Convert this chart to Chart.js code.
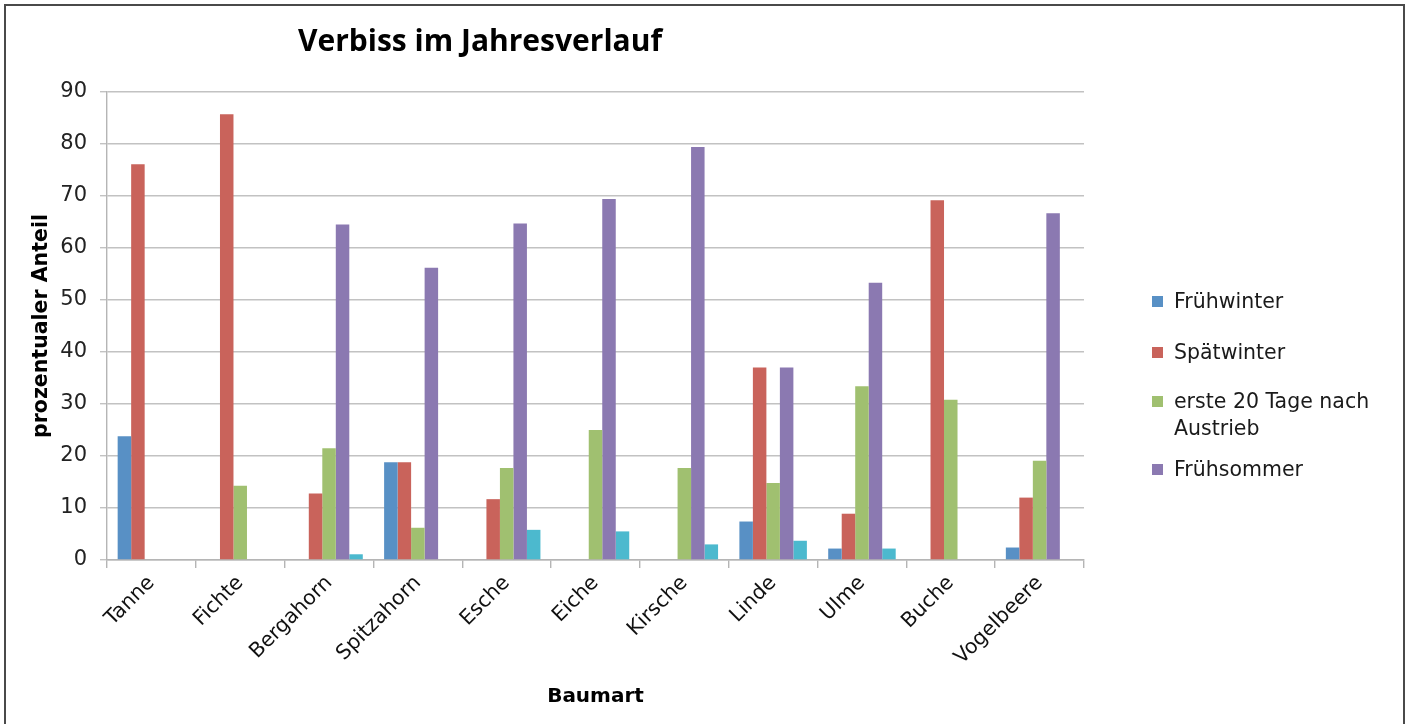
<!DOCTYPE html>
<html><head><meta charset="utf-8">
<script src="https://cdn.jsdelivr.net/npm/chart.js@4"></script>
<style>
html,body{margin:0;padding:0;background:#fff;}
#wrap{position:relative;width:1410px;height:724px;overflow:hidden;}
#frame{position:absolute;left:4px;top:4px;width:1401px;height:740px;border:2px solid #4a4a4a;box-sizing:border-box;pointer-events:none;}
#legend{position:absolute;left:1152px;top:0;font-family:"DejaVu Sans",sans-serif;font-size:20.5px;color:#1a1a1a;}
.li{position:absolute;left:0;white-space:nowrap;line-height:27px;}
.sw{position:absolute;left:0;width:11px;height:11px;}
.tx{position:absolute;left:22px;}
</style></head>
<body><div id="wrap"><canvas id="c" width="1410" height="724"></canvas><div id="frame"></div><div id="legend"></div></div>
<script>
const chartTitle = "Verbiss im Jahresverlauf";
const categories = ["Tanne","Fichte","Bergahorn","Spitzahorn","Esche","Eiche","Kirsche","Linde","Ulme","Buche","Vogelbeere"];
const seriesNames = ["Frühwinter","Spätwinter","erste 20 Tage nach Austrieb","Frühsommer","Spätsommer"];
const fruehwinter = [23.8, 0, 0, 18.8, 0, 0, 0, 7.4, 2.2, 0, 2.4];
const spaetwinter = [76.1, 85.7, 12.8, 18.8, 11.7, 0, 0, 37.0, 8.9, 69.2, 12.0];
const ersteTage   = [0, 14.3, 21.5, 6.2, 17.7, 25.0, 17.7, 14.8, 33.4, 30.8, 19.1];
const fruehsommer = [0, 0, 64.5, 56.2, 64.7, 69.4, 79.4, 37.0, 53.3, 0, 66.7];
const spaetsommer = [0, 0, 1.1, 0, 5.8, 5.5, 3.0, 3.7, 2.2, 0, 0];
const yTicks = [0,10,20,30,40,50,60,70,80,90];
const colors = ["#5890C5","#C9635B","#A0C070","#8B79B1","#4CB9CE"];

const allData = [fruehwinter, spaetwinter, ersteTage, fruehsommer, spaetsommer];

const titlePlugin = {
  id:'customTitle',
  afterDraw(chart){
    const ctx = chart.ctx;
    ctx.save();
    ctx.font = 'bold 30px "Open Sans", sans-serif';
    ctx.fillStyle = '#000';
    ctx.textAlign = 'center';
    ctx.textBaseline = 'middle';
    ctx.fillText(chartTitle, 480, 42);
    ctx.restore();
  }
};

new Chart(document.getElementById('c'), {
  type:'bar',
  data:{
    labels:categories,
    datasets: seriesNames.map((n,i)=>({label:n,data:allData[i],backgroundColor:colors[i],borderWidth:0,categoryPercentage:0.76,barPercentage:1.0}))
  },
  options:{
    responsive:false, animation:false, devicePixelRatio:1,
    layout:{padding:{top:92,right:326,bottom:0,left:0}},
    plugins:{legend:{display:false},title:{display:false},tooltip:{enabled:false}},
    scales:{
      y:{
        min:0,max:90,
        afterFit(s){s.width=107;},
        afterBuildTicks(s){s.ticks = yTicks.map(v=>({value:v}));},
        grid:{color:'#c2c2c2',lineWidth:1.4,tickLength:7},
        border:{color:'#b5b5b5',width:1.4},
        ticks:{padding:13,color:'#222',font:{family:'"DejaVu Sans", sans-serif',size:21}},
        title:{display:true,text:'prozentualer Anteil',color:'#000',font:{family:'"DejaVu Sans", sans-serif',size:20.5,weight:'bold'},padding:{top:29,bottom:0}}
      },
      x:{
        afterFit(s){s.height=164;},
        grid:{offset:true,drawOnChartArea:false,color:'#b5b5b5',lineWidth:1.4,tickLength:8},
        border:{color:'#b5b5b5',width:1.4},
        ticks:{maxRotation:45,minRotation:45,padding:3,color:'#111',autoSkip:false,font:{family:'"DejaVu Sans", sans-serif',size:20.5}},
        title:{display:true,text:'Baumart',color:'#000',font:{family:'"DejaVu Sans", sans-serif',size:20,weight:'bold'},padding:{top:0,bottom:15}}
      }
    }
  },
  plugins:[titlePlugin]
});

// HTML legend (first four series, as in the original)
const legendEl = document.getElementById('legend');
const legendRows = [[seriesNames[0]],[seriesNames[1]],["erste 20 Tage nach","Austrieb"],[seriesNames[3]]];
const legendY = [301,352,401,469];
legendRows.forEach((lines,i)=>{
  const d=document.createElement('div');
  d.className='li';
  d.style.top=(legendY[i]-13.5)+'px';
  d.innerHTML='<span class="sw" style="top:8px;background:'+colors[i]+'"></span><span class="tx">'+lines.join('<br>')+'</span>';
  legendEl.appendChild(d);
});
</script></body></html>
